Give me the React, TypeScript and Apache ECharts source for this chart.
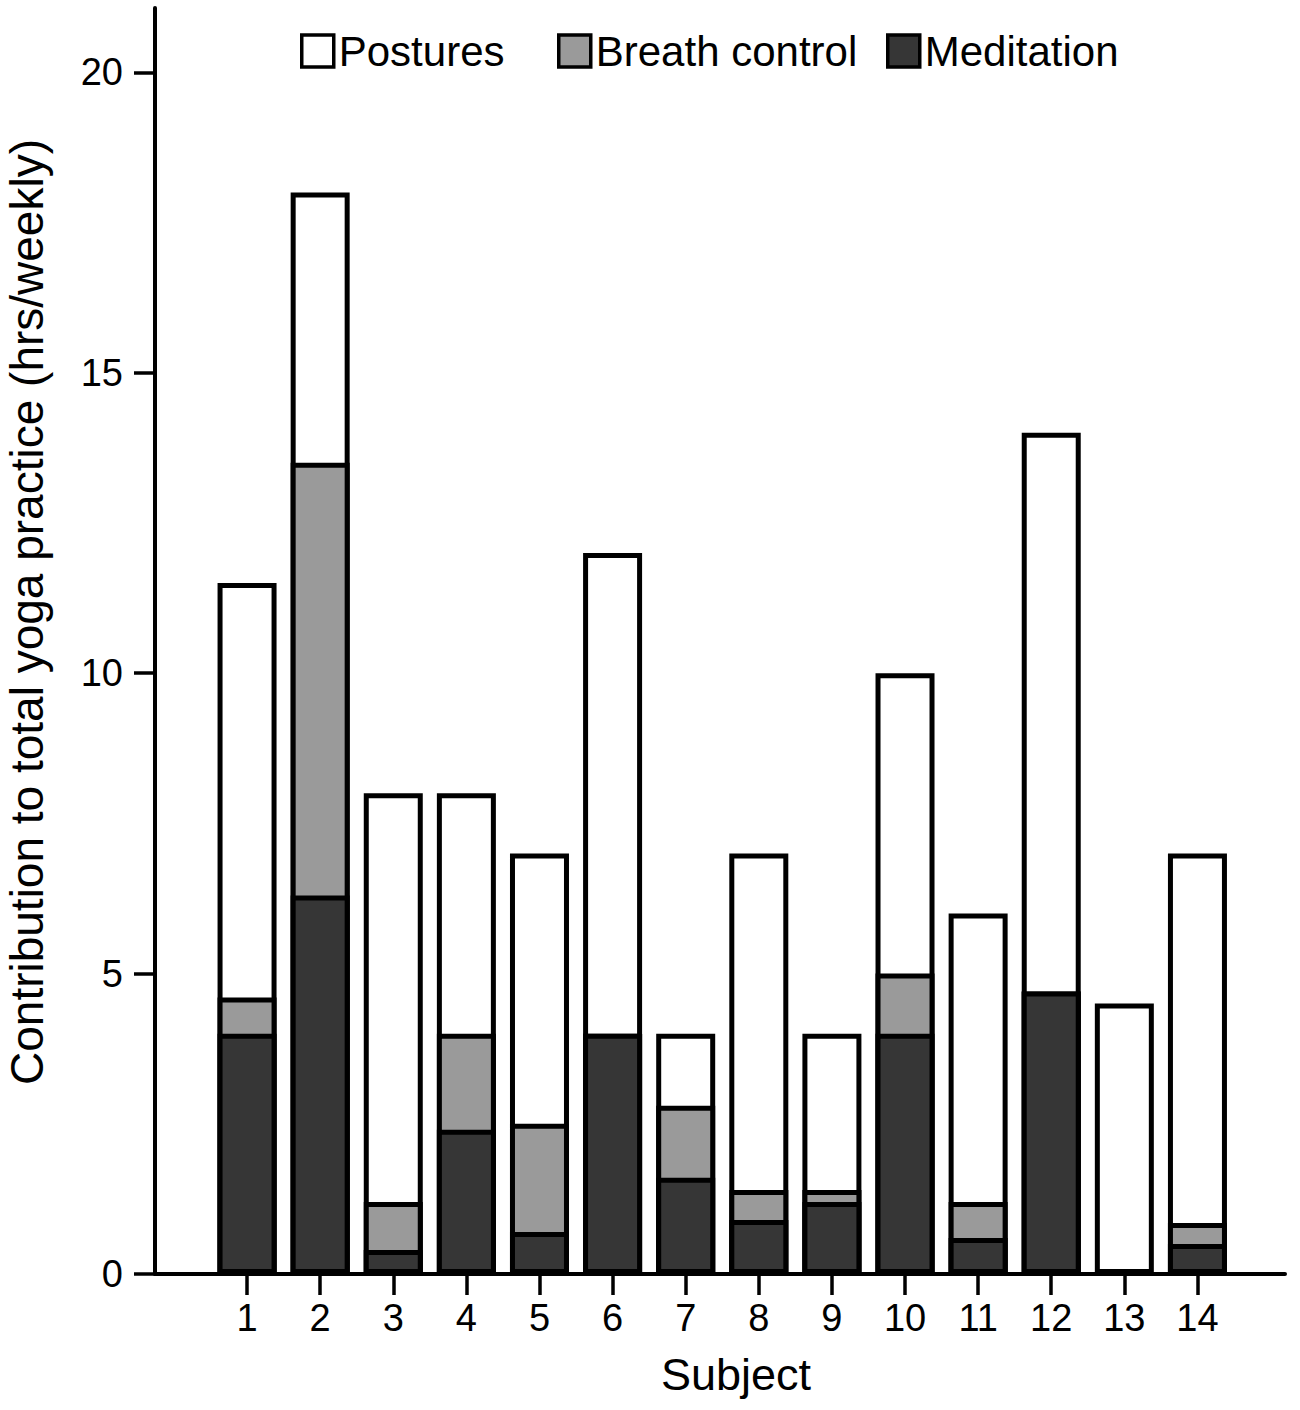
import React, { useEffect, useRef } from "react";
import * as echarts from "echarts";

const FONT = "'Liberation Sans', Arial, Helvetica, sans-serif";

const subjects = ["1", "2", "3", "4", "5", "6", "7", "8", "9", "10", "11", "12", "13", "14"];
const meditation = [4, 6.3, 0.4, 2.4, 0.7, 4, 1.6, 0.9, 1.2, 4, 0.6, 4.7, 0.08, 0.5];
const breathControl = [0.6, 7.2, 0.8, 1.6, 1.8, 0, 1.2, 0.5, 0.2, 1, 0.6, 0, 0, 0.35];
const postures = [6.9, 4.5, 6.8, 4.0, 4.5, 8, 1.2, 5.6, 2.6, 5, 4.8, 9.3, 4.42, 6.15];
const yTicks = [0, 5, 10, 15, 20];

const seriesNames = ["Postures", "Breath control", "Meditation"];
const seriesColors = ["#ffffff", "#9a9a9a", "#363636"];

export default function App() {
  const ref = useRef<HTMLDivElement>(null);

  useEffect(() => {
    if (!ref.current) return;
    const chart = echarts.init(ref.current, undefined, { renderer: "svg" });

    // Segment tops of each stacked column (layered, so every boundary gets one border)
    const breathTop = meditation.map((m, i) => +(m + breathControl[i]).toFixed(4));
    const postureTop = breathTop.map((b, i) => +(b + postures[i]).toFixed(4));

    const mkLegend = (name: string, left: number) => ({
      data: [name],
      left,
      top: 30,
      padding: 0,
      orient: "horizontal",
      icon: "rect",
      itemWidth: 32,
      itemHeight: 32,
      selectedMode: false,
      itemStyle: { borderColor: "#000", borderWidth: 3.5 },
      textStyle: { fontSize: 42, color: "#000", fontFamily: FONT },
    });

    const mkSeries = (name: string, tops: number[]) => ({
      type: "bar",
      name,
      barWidth: 59,
      barGap: "-100%",
      xAxisIndex: 0,
      yAxisIndex: 0,
      itemStyle: {
        color: seriesColors[seriesNames.indexOf(name)],
        borderColor: "#000",
        borderWidth: 5,
      },
      data: tops,
    });

    const Y_MAX = 21.07;

    chart.setOption({
      animation: false,
      backgroundColor: "#ffffff",
      grid: [
        // band area holding the 14 subject columns
        { left: 210.5, right: 66, top: 8, bottom: 136, containLabel: false, outerBoundsMode: "none" },
        // full frame carrying the visible axis lines
        { left: 155, right: 15, top: 8, bottom: 136, containLabel: false, outerBoundsMode: "none" },
      ],
      xAxis: [
        {
          type: "category",
          gridIndex: 0,
          data: subjects,
          boundaryGap: true,
          splitLine: { show: false },
          axisLine: { show: false },
          axisTick: {
            show: true,
            alignWithLabel: true,
            length: 21,
            lineStyle: { color: "#000", width: 3.5 },
          },
          axisLabel: {
            show: true,
            interval: 0,
            margin: 25,
            fontSize: 38,
            color: "#000",
            fontFamily: FONT,
          },
        },
        {
          type: "value",
          gridIndex: 1,
          min: 0,
          max: 1,
          splitLine: { show: false },
          axisLine: { show: true, onZero: false, lineStyle: { color: "#000", width: 4 } },
          axisTick: { show: false },
          axisLabel: { show: false },
        },
      ],
      yAxis: [
        {
          type: "value",
          gridIndex: 0,
          min: 0,
          max: Y_MAX,
          show: false,
        },
        {
          type: "value",
          gridIndex: 1,
          min: 0,
          max: Y_MAX,
          splitLine: { show: false },
          axisLine: { show: true, lineStyle: { color: "#000", width: 4 } },
          axisTick: {
            show: true,
            customValues: yTicks,
            length: 21,
            lineStyle: { color: "#000", width: 3.5 },
          },
          axisLabel: {
            show: true,
            customValues: yTicks,
            margin: 32,
            fontSize: 38,
            color: "#000",
            fontFamily: FONT,
          },
        },
      ],
      legend: [
        mkLegend("Postures", 300),
        mkLegend("Breath control", 557),
        mkLegend("Meditation", 886),
      ],
      graphic: [
        {
          type: "text",
          x: 27,
          y: 612,
          rotation: Math.PI / 2,
          style: {
            text: "Contribution to total yoga practice (hrs/weekly)",
            fontSize: 46,
            fontFamily: FONT,
            fill: "#000",
            textAlign: "center",
            textVerticalAlign: "middle",
          },
        },
        {
          type: "text",
          x: 736,
          y: 1374,
          style: {
            text: "Subject",
            fontSize: 45,
            fontFamily: FONT,
            fill: "#000",
            textAlign: "center",
            textVerticalAlign: "middle",
          },
        },
      ],
      series: [
        mkSeries("Postures", postureTop),
        mkSeries("Breath control", breathTop),
        mkSeries("Meditation", meditation),
      ],
    });

    return () => chart.dispose();
  }, []);

  return (
    <div
      ref={ref}
      style={{ position: "absolute", left: 0, top: 0, width: 1300, height: 1410 }}
    />
  );
}
